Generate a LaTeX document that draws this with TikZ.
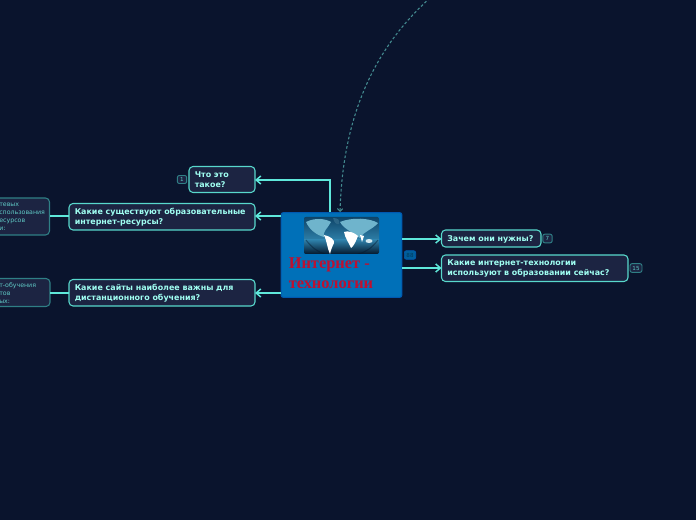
\documentclass[tikz,border=0pt]{standalone}
\usepackage{fontspec}
\setmainfont{DejaVu Sans}
\newfontfamily\titlefont{Liberation Serif}
\usetikzlibrary{arrows.meta}
\definecolor{bg}{HTML}{0A142D}
\definecolor{nodefill}{HTML}{1C2442}
\definecolor{edge}{HTML}{5FE8DA}
\definecolor{nodeedge}{HTML}{58D8CC}
\definecolor{txt}{HTML}{A0FFF2}
\definecolor{central}{HTML}{0070B8}
\definecolor{centraledge}{HTML}{0058B0}
\definecolor{titlered}{HTML}{BE1030}
\definecolor{dimedge}{HTML}{2F7F85}
\definecolor{dimtxt}{HTML}{5FC8C4}
\definecolor{mapdark}{HTML}{04192E}
\definecolor{mapmid}{HTML}{2E7FA8}
\definecolor{mapland}{HTML}{6FB4CC}
\definecolor{mapdeep}{HTML}{0E4468}
\tikzset{
  x=0.75pt,y=-0.75pt,
  topic/.style={draw=nodeedge,fill=nodefill,rounded corners=3pt,line width=0.8pt},
  toptext/.style={inner sep=0pt,align=left,text=txt,font=\fontsize{5.95pt}{7.4pt}\selectfont\bfseries,anchor=west},
  subbox/.style={draw=dimedge,fill=nodefill,rounded corners=3pt,line width=0.8pt},
  subtext/.style={inner sep=0pt,align=left,text=dimtxt,font=\fontsize{4.7pt}{6pt}\selectfont,anchor=west},
  link/.style={draw=edge,line width=1.1pt,-{Straight Barb[length=3.5pt,width=6pt]}},
  plain/.style={draw=edge,line width=1.1pt},
  badge/.style={draw=dimedge,fill=nodefill,rounded corners=1.5pt,line width=0.7pt,inner sep=0pt,text=dimtxt,font=\fontsize{4.2pt}{5pt}\selectfont},
}
\begin{document}
\begin{tikzpicture}
\fill[bg] (0,0) rectangle (696,520);
\useasboundingbox (0,0) rectangle (696,520);
\clip (0,0) rectangle (696,520);
% dashed relation
\coordinate (far) at (430,-2);
\coordinate (relend) at (340,212);
\draw[dimedge!90!white,line width=0.8pt,dash pattern=on 2pt off 1.6pt,-{Straight Barb[length=2pt,width=4pt]}] (far) .. controls (378,45) and (343,110) .. (relend);
% central
\node[draw=centraledge,fill=central,rounded corners=1.5pt,line width=0.75pt,minimum width=90.5pt,minimum height=63.5pt,inner sep=0pt] (root) at (341.5,255) {};
\begin{scope}
\clip[rounded corners=1.5pt] (304,217) rectangle (379,254);
\fill[mapdeep] (304,217) rectangle (379,254);
\shade[top color=mapdeep,bottom color=mapmid] (304,217) rectangle (379,240);
\shade[top color=mapmid,bottom color=mapdark] (304,240) rectangle (379,254);
\fill[mapland] (306,222) .. controls (316,217) and (326,219) .. (331,222) .. controls (328,228) and (322,232) .. (324,237) .. controls (316,235) and (309,229) .. (306,222) -- cycle;
\fill[mapland] (340,222) .. controls (352,217) and (370,218) .. (378,223) .. controls (372,230) and (364,231) .. (360,238) .. controls (352,232) and (344,229) .. (340,222) -- cycle;
\fill[mapdeep!70!mapland] (333,218) .. controls (338,218) and (340,220) .. (339,224) .. controls (336,225) and (334,222) .. (333,218) -- cycle;
\fill[white] (324,235) .. controls (330,236) and (335,240) .. (334,243) .. controls (332,247) and (331,250) .. (330,254) .. controls (327,248) and (327,241) .. (324,235) -- cycle;
\fill[white] (344,232) .. controls (348,230) and (355,233) .. (358,236) .. controls (356,241) and (354,246) .. (351,248) .. controls (349,243) and (345,238) .. (344,232) -- cycle;
\fill[white] (360,235) -- (364,236) -- (362,242) -- cycle;
\fill[white!70!mapland] (369,241) ellipse[x radius=3.5,y radius=2];
\draw[mapdark,line width=0.8pt,opacity=.45] (306,240) .. controls (312,248) and (318,252) .. (325,254);
\draw[mapdark,line width=0.8pt,opacity=.45] (378,240) .. controls (372,248) and (366,252) .. (358,254);
\end{scope}
\node[inner sep=0pt,align=left,anchor=north west,text=titlered,font=\titlefont\fontsize{12.3pt}{15pt}\selectfont\bfseries] (title) at (288.5,257.5) {Интернет -\\технологии};
% nodes
\draw[topic] (189,166.5) rectangle (255,192.5);
\node[toptext] (n1) at (194.5,180) {Что это\\такое?};
\coordinate (n1e) at (255,180);
\draw[topic] (69,203.5) rectangle (255,230);
\node[toptext] (n2) at (74.5,217.3) {Какие существуют образовательные\\интернет-ресурсы?};
\coordinate (n2e) at (255,216);
\coordinate (n2w) at (69,216);
\draw[topic] (69,279.5) rectangle (255,306);
\node[toptext] (n3) at (74.5,293.3) {Какие сайты наиболее важны для\\дистанционного обучения?};
\coordinate (n3e) at (255,293);
\coordinate (n3w) at (69,293);
\draw[topic] (441.5,230) rectangle (541,247);
\node[toptext] (n4) at (447,239.2) {Зачем они нужны?};
\coordinate (n4w) at (441.5,239);
\draw[topic] (441.5,255) rectangle (628,281.5);
\node[toptext] (n5) at (447,268.8) {Какие интернет-технологии\\используют в образовании сейчас?};
\coordinate (n5w) at (441.5,268);
% clipped sub topics
\draw[subbox] (-12,198) rectangle (49.5,235);
\node[subtext] (s1) at (-1,216.7) {тевых\\спользования\\есурсов\\и:};
\coordinate (s1e) at (49.5,216);
\draw[subbox] (-12,278.5) rectangle (50,306.5);
\node[subtext] (s2) at (-1,292.7) {т-обучения\\тов\\ых:};
\coordinate (s2e) at (50,293);
% connectors
\draw[link] (330,212) |- (n1e);
\draw[link] (281,216) -- (n2e);
\draw[link] (281,293) -- (n3e);
\draw[link] (402,239) -- (n4w);
\draw[link] (402,268) -- (n5w);
\draw[plain] (n2w) -- (s1e);
\draw[plain] (n3w) -- (s2e);
% badges
\node[badge,minimum width=7pt,minimum height=6pt] (b1) at (182,179.5) {1};
\node[badge,minimum width=7pt,minimum height=6.5pt] (b2) at (547.5,238.5) {7};
\node[badge,minimum width=9pt,minimum height=6.5pt] (b3) at (636,268) {15};
\node[draw=centraledge,fill=central!85!black,rounded corners=1.5pt,line width=0.5pt,inner sep=0pt,text=black!50!central,minimum width=8.5pt,minimum height=6.5pt,font=\fontsize{4.2pt}{5pt}\selectfont] (b4) at (410,255) {88};
\end{tikzpicture}
\end{document}
